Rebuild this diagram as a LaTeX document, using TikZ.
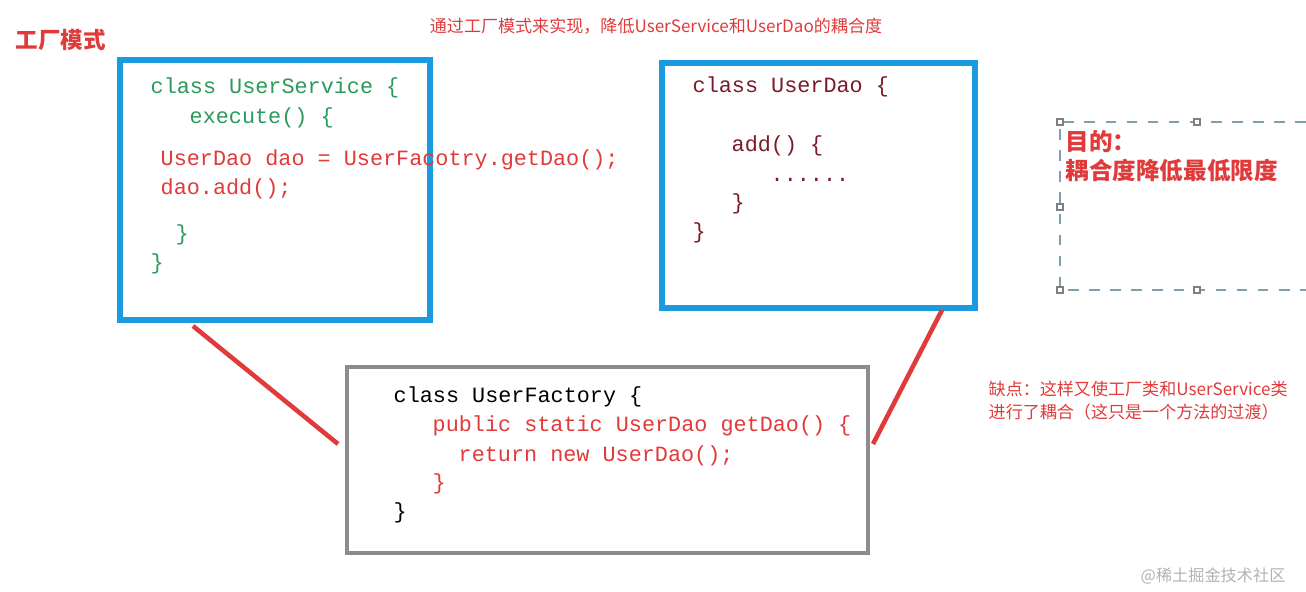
\documentclass[tikz,border=0pt]{standalone}
\usepackage{fontspec}
\setmainfont{Liberation Serif}
\newfontfamily\cjk{Noto Sans CJK SC}
\newfontfamily\code{Liberation Mono}
\definecolor{boxblue}{HTML}{1A9BE0}
\definecolor{codegreen}{HTML}{2A9A5C}
\definecolor{codered}{HTML}{E03A3A}
\definecolor{daored}{HTML}{7A1A2A}
\tikzstyle{cls} = [line width=1.7pt, draw=boxblue]
\tikzstyle{fac} = [line width=1.4pt, draw=gray!90]
\tikzstyle{link} = [line width=1.3pt, draw=codered]
\tikzstyle{code} = [anchor=west, inner sep=0, font=\code\fontsize{6.2}{7}\selectfont]
\tikzstyle{note} = [anchor=west, inner sep=0, text=codered, font=\cjk\fontsize{4.85}{5.5}\selectfont]
\tikzstyle{handle} = [draw=gray, fill=white, inner sep=0, minimum size=0.06cm]

\begin{document}
\begin{tikzpicture}[x=0.01cm,y=-0.01cm]
\useasboundingbox (0,0) rectangle (1306,592);

% titles
\node[note, font=\cjk\bfseries\fontsize{6.4}{7}\selectfont] (title) at (15,40) {工厂模式};
\node[note, anchor=center] (headline) at (656,26) {通过工厂模式来实现，降低UserService和UserDao的耦合度};

% UserService
\draw[cls] (120,60) rectangle (430,320);
\coordinate (serviceBottom) at (193,326);
\node[code, text=codegreen] (s1) at (150,88) {class UserService \{};
\node[code, text=codegreen] (s2) at (189,118) {execute() \{};
\node[code, text=codered] (s3) at (160,160) {UserDao dao = UserFacotry.getDao();};
\node[code, text=codered] (s4) at (160,189) {dao.add();};
\node[code, text=codegreen] (s5) at (175,235) {\}};
\node[code, text=codegreen] (s6) at (150,264) {\}};

% UserDao
\draw[cls] (662,63) rectangle (975,308);
\coordinate (daoBottom) at (942,310);
\node[code, text=daored] (d1) at (692,87) {class UserDao \{};
\node[code, text=daored] (d2) at (731,146) {add() \{};
\node[code, text=daored] (d3) at (770,180) {......};
\node[code, text=daored] (d4) at (731,204) {\}};
\node[code, text=daored] (d5) at (692,233) {\}};

% UserFactory
\draw[fac] (347,367) rectangle (868,553);
\coordinate (facLeft) at (338,444);
\coordinate (facRight) at (873,444);
\node[code] (f1) at (393,397) {class UserFactory \{};
\node[code, text=codered] (f2) at (432,426) {public static UserDao getDao() \{};
\node[code, text=codered] (f3) at (458,456) {return new UserDao();};
\node[code, text=codered] (f4) at (432,484) {\}};
\node[code] (f5) at (393,513) {\}};

\draw[link] (serviceBottom) -- (facLeft);
\draw[link] (daoBottom) -- (facRight);

% goal box
\draw[dashed, draw=gray!70!cyan] (1306,122) -- (1060,122) -- (1060,290) -- (1306,290);
\foreach \p in {(1060,122),(1197,122),(1060,207),(1060,290),(1197,290)}
  \node[handle] at \p {};
\node[note, font=\cjk\bfseries\fontsize{6.7}{7}\selectfont] (g1) at (1065,142) {目的：};
\node[note, font=\cjk\bfseries\fontsize{6.7}{7}\selectfont] (g2) at (1065,171) {耦合度降低最低限度};

% drawback
\node[note] (c1) at (988,389) {缺点：这样又使工厂类和UserService类};
\node[note] (c2) at (988,412) {进行了耦合（这只是一个方法的过渡）};

\node[note, text=gray!60, font=\cjk\fontsize{4.6}{5}\selectfont] (mark) at (1140,576) {@稀土掘金技术社区};
\end{tikzpicture}
\end{document}
